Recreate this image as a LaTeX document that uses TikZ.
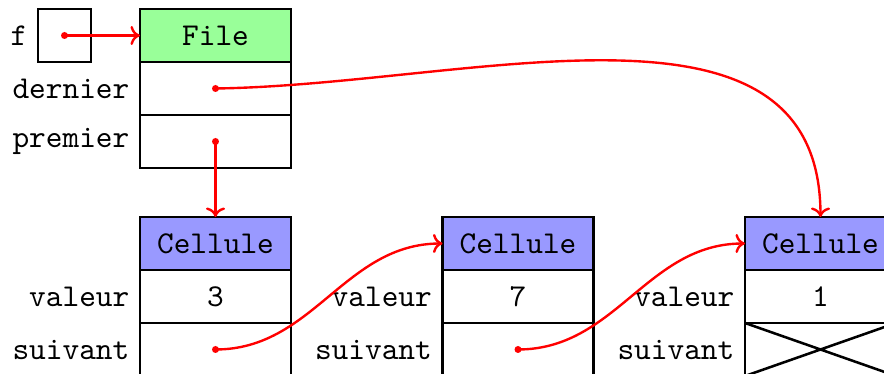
\documentclass[tikz,border=0pt]{standalone}
\usetikzlibrary{arrows.meta}
\begin{document}
\begin{tikzpicture}[x=0.3145pt,y=-0.3145pt,
  cell/.style={draw=black,line width=0.8pt,minimum width=151*0.3145pt,minimum height=53*0.3145pt,inner sep=0pt,outer sep=0pt,font=\ttfamily},
  lab/.style={anchor=east,inner sep=0pt,font=\ttfamily},
  ptr/.style={red,line width=0.75pt,-{Computer Modern Rightarrow[length=3pt,width=6pt]}},
  dot/.style={fill=red}]
\useasboundingbox (0,0) rectangle (884,374);
\clip (0,0) rectangle (884,374);
% f box
\node[cell,minimum width=53*0.3145pt] (f) at (64.5,35.5) {};
\node[anchor=center,inner sep=0pt,font=\ttfamily] (flab) at (19,35.5) {f};
% File structure
\node[cell,fill=green!40] (file) at (215.5,35.5) {File};
\node[cell] (dernier) at (215.5,88.5) {};
\node[cell] (premier) at (215.5,141.5) {};
\node[lab] (ldernier) at (130,88.5) {dernier};
\node[lab] (lpremier) at (130,141.5) {premier};
% Cells
\foreach \i/\x/\v in {1/215.5/3,2/518/7,3/820.5/1}{
  \node[cell,fill=blue!40] (c\i) at (\x,243.5) {Cellule};
  \node[cell] (v\i) at (\x,296.5) {\v};
  \node[cell] (s\i) at (\x,349.5) {};
  \node[lab] (lv\i) at (\x-85.5,296.5) {valeur};
  \node[lab] (ls\i) at (\x-85.5,349.5) {suivant};
}
\draw[line width=0.8pt] (s3.north west) -- (s3.south east) (s3.south west) -- (s3.north east);
% pointers
\fill[dot] (f.center) circle (1.1pt);
\fill[dot] (dernier.center) circle (1.1pt);
\fill[dot] (premier.center) circle (1.1pt);
\fill[dot] (s1.center) circle (1.1pt);
\fill[dot] (s2.center) circle (1.1pt);
\draw[ptr] (f.center) -- (file.west);
\draw[ptr] (premier.center) -- (c1.north);
\draw[ptr] (dernier.center) .. controls (470,85) and (820.5,-25) .. (c3.north);
\draw[ptr] (s1.center) to[out=0,in=180] (c2.west);
\draw[ptr] (s2.center) to[out=0,in=180] (c3.west);
\end{tikzpicture}
\end{document}
